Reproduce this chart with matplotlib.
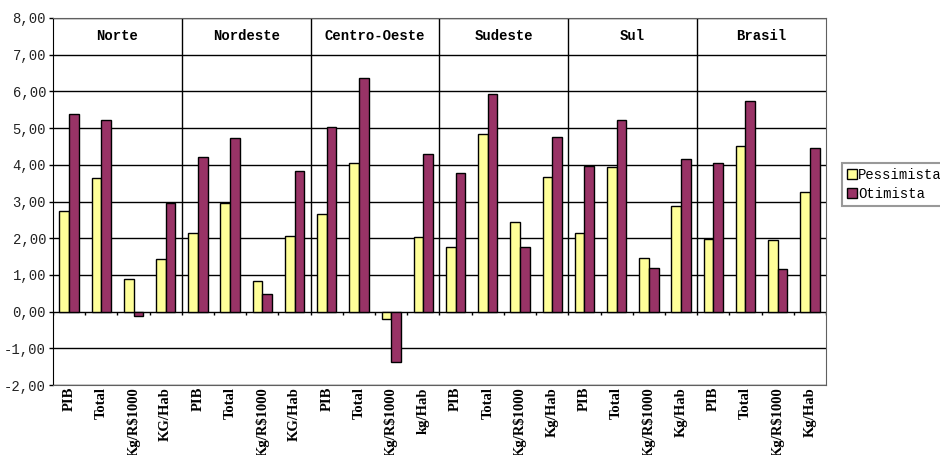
import matplotlib
matplotlib.use("Agg")
import matplotlib.pyplot as plt
import numpy as np
from matplotlib.patches import Patch

regions = ["Norte", "Nordeste", "Centro-Oeste", "Sudeste", "Sul", "Brasil"]
categories = ["PIB", "Total", "Kg/R$1000", "KG/Hab",
              "PIB", "Total", "Kg/R$1000", "KG/Hab",
              "PIB", "Total", "Kg/R$1000", "kg/Hab",
              "PIB", "Total", "Kg/R$1000", "Kg/Hab",
              "PIB", "Total", "Kg/R$1000", "Kg/Hab",
              "PIB", "Total", "Kg/R$1000", "Kg/Hab"]
pessimista = [2.75, 3.65, 0.90, 1.42,
              2.15, 2.97, 0.83, 2.06,
              2.65, 4.04, -0.20, 2.03,
              1.75, 4.83, 2.45, 3.68,
              2.15, 3.95, 1.47, 2.87,
              1.97, 4.50, 1.95, 3.27]
otimista = [5.38, 5.22, -0.13, 2.97,
            4.20, 4.73, 0.47, 3.82,
            5.03, 6.36, -1.37, 4.30,
            3.77, 5.93, 1.75, 4.75,
            3.98, 5.23, 1.19, 4.15,
            4.05, 5.73, 1.17, 4.47]
yticks = [-2, -1, 0, 1, 2, 3, 4, 5, 6, 7, 8]
series_names = ["Pessimista", "Otimista"]

YEL = "#FFFF99"
PUR = "#993366"
MONO = "Liberation Mono"
SERIF = "Liberation Serif"

fig = plt.figure(figsize=(9.4, 4.55), dpi=100)
ax = fig.add_axes([53/940, 1-385/455, (826-53)/940, (385-18)/455])

n = len(categories)
x = np.arange(n)
w = 0.3
ax.bar(x - w/2, pessimista, w, color=YEL, edgecolor="black", linewidth=1, zorder=3)
ax.bar(x + w/2, otimista, w, color=PUR, edgecolor="black", linewidth=1, zorder=3)

ax.set_xlim(-0.5, n - 0.5)
ax.set_ylim(-2, 8)
ax.set_yticks(yticks)
ax.set_yticklabels([f"{v:.2f}".replace(".", ",") for v in yticks],
                   fontfamily=MONO, fontsize=10, color="#222222")
ax.tick_params(axis="y", length=3, width=1, pad=2)
ax.yaxis.grid(True, color="black", linewidth=1, zorder=1)

ax.set_xticks(x)
ax.set_xticklabels(categories, rotation=90, fontfamily=SERIF, fontweight="bold",
                   fontsize=10.5, va="top", ha="center")
ax.tick_params(axis="x", length=0, pad=1.5)

# tick marks on the zero line at category boundaries
bounds = np.arange(n + 1) - 0.5
ax.vlines(bounds, -0.1, 0, color="black", linewidth=1, zorder=2)

# region separators and names
per = n // len(regions)
for g, name in enumerate(regions):
    if g > 0:
        ax.vlines(g*per - 0.5, 0, 8, color="black", linewidth=1, zorder=2)
    ax.text(g*per + (per-1)/2, 7.5, name, ha="center", va="center",
            fontfamily=MONO, fontweight="bold", fontsize=10)

for s in ["top", "right", "bottom"]:
    ax.spines[s].set_color("#606060")
ax.spines["left"].set_color("black")

handles = [Patch(facecolor=YEL, edgecolor="black"), Patch(facecolor=PUR, edgecolor="black")]
leg = fig.legend(handles, series_names, loc="upper left",
                 bbox_to_anchor=(842/940, 1-163/455),
                 prop={"family": MONO, "size": 10},
                 handlelength=0.7, handleheight=0.7, handletextpad=0.1,
                 borderpad=0.35, labelspacing=0.35, borderaxespad=0,
                 fancybox=False, frameon=True)
leg.get_frame().set_edgecolor("#808080")
leg.get_frame().set_linewidth(1.5)

fig.savefig("out.png", dpi=100)
